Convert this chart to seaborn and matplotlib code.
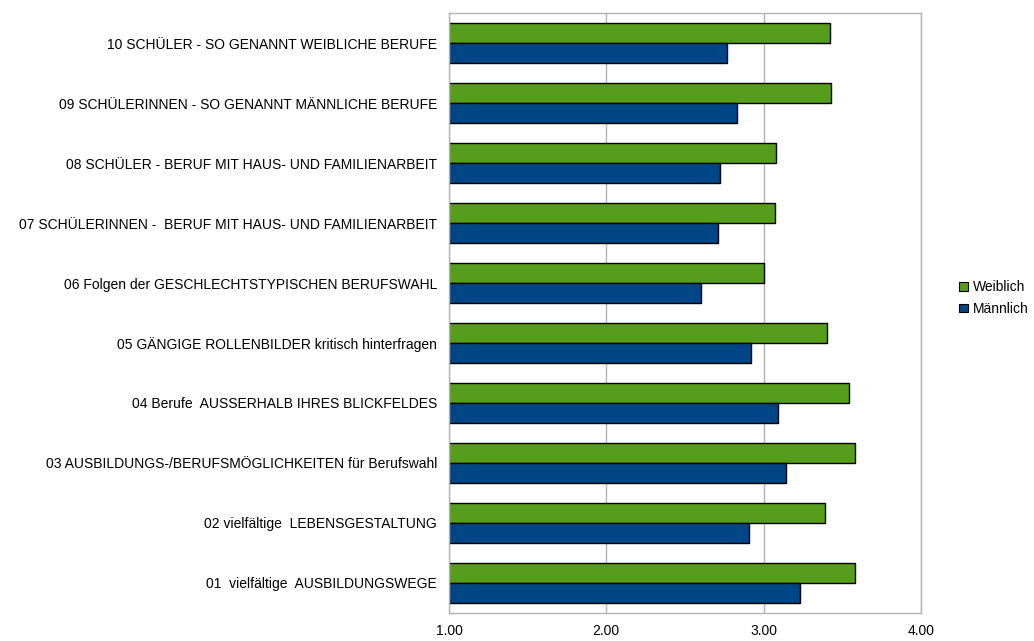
import numpy as np
import pandas as pd
import matplotlib
matplotlib.use("Agg")
import matplotlib.pyplot as plt
import seaborn as sns

# items listed top to bottom as in the chart
items = [
    "10 SCHÜLER - SO GENANNT WEIBLICHE BERUFE",
    "09 SCHÜLERINNEN - SO GENANNT MÄNNLICHE BERUFE",
    "08 SCHÜLER - BERUF MIT HAUS- UND FAMILIENARBEIT",
    "07 SCHÜLERINNEN -  BERUF MIT HAUS- UND FAMILIENARBEIT",
    "06 Folgen der GESCHLECHTSTYPISCHEN BERUFSWAHL",
    "05 GÄNGIGE ROLLENBILDER kritisch hinterfragen",
    "04 Berufe  AUSSERHALB IHRES BLICKFELDES",
    "03 AUSBILDUNGS-/BERUFSMÖGLICHKEITEN für Berufswahl",
    "02 vielfältige  LEBENSGESTALTUNG",
    "01  vielfältige  AUSBILDUNGSWEGE",
]
weiblich = [3.42, 3.43, 3.08, 3.07, 3.00, 3.40, 3.54, 3.58, 3.39, 3.58]
maennlich = [2.77, 2.83, 2.72, 2.71, 2.60, 2.92, 3.09, 3.14, 2.91, 3.23]
groups = ["Weiblich", "Männlich"]
colors = ["#579D1C", "#004586"]
xticks = [1, 2, 3, 4]

df = pd.DataFrame({
    "item": items * 2,
    "gruppe": [groups[0]] * len(items) + [groups[1]] * len(items),
    "wert": weiblich + maennlich,
})

sns.set_style("white")
plt.rcParams["font.family"] = ["Liberation Sans", "DejaVu Sans"]
plt.rcParams["text.color"] = "black"
plt.rcParams["xtick.color"] = "black"
plt.rcParams["ytick.color"] = "black"

fig = plt.figure(figsize=(10.34, 6.41), dpi=100)
ax = fig.add_axes([0.4342, 0.0437, 0.4565, 0.936])

sns.barplot(data=df, y="item", x="wert", hue="gruppe", order=items,
            hue_order=groups, palette=colors, saturation=1, orient="h",
            width=0.667, edgecolor="black", linewidth=1.0, ax=ax, legend=True)

ax.set_xlim(1, 4)
ax.set_ylim(len(items) - 0.5, -0.5)
ax.set_xticks(xticks)
ax.set_xticklabels([f"{v:.2f}" for v in xticks], fontsize=10)
ax.set_xlabel("")
ax.set_ylabel("")
ax.tick_params(axis="y", which="major", length=0, labelsize=10, pad=8.6,
               labelcolor="black")
ax.set_yticks(np.arange(-0.5, len(items), 1), minor=True)
ax.tick_params(axis="y", which="minor", length=4, color="#b3b3b3", width=1)
ax.tick_params(axis="x", which="major", length=4, color="#b3b3b3", width=1,
               pad=4, labelcolor="black")
ax.xaxis.grid(True, color="#b3b3b3", linewidth=1)
ax.set_axisbelow(True)
for sp in ax.spines.values():
    sp.set_color("#b3b3b3")
    sp.set_linewidth(1)

leg = ax.legend(loc="center left", bbox_to_anchor=(1.055, 0.525), frameon=False,
                fontsize=10, handlelength=0.6, handleheight=0.6, handletextpad=0.4,
                labelspacing=0.55)
for h in leg.legend_handles:
    h.set_edgecolor("black")
    h.set_linewidth(0.8)

fig.savefig("out.png", dpi=100)
